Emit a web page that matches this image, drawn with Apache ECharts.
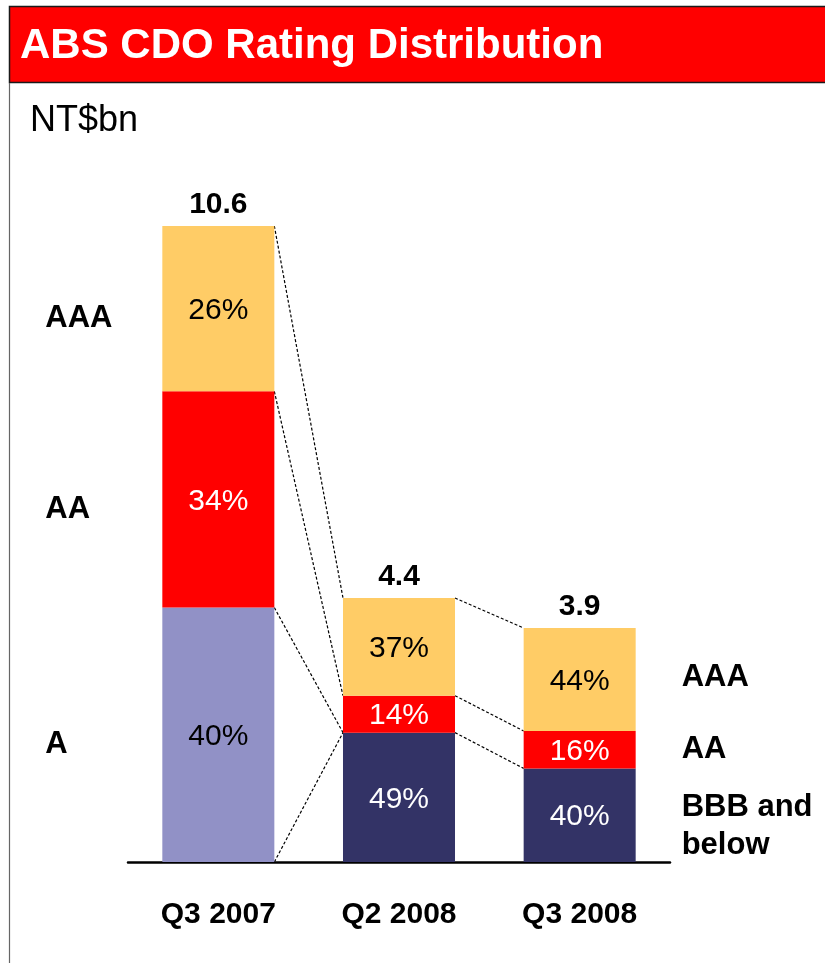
<!DOCTYPE html>
<html>
<head>
<meta charset="utf-8">
<script src="https://cdn.jsdelivr.net/npm/echarts@6/dist/echarts.min.js"></script>
<style>
  html, body { margin: 0; padding: 0; background: #fff; }
  #chart { width: 825px; height: 963px; }
</style>
</head>
<body>
<div id="chart"></div>
<script>
// values
const categories = ['Q3 2007', 'Q2 2008', 'Q3 2008']
const totals = [10.6, 4.4, 3.9]
const lowerPct = [40, 49, 40] // A (2007) / BBB and below (2008)
const aaPct = [34, 14, 16]
const aaaPct = [26, 37, 44]
const leftLabels = ['A', 'AA', 'AAA']
const rightLabels = ['BBB and\nbelow', 'AA', 'AAA']
// connector lines: [fromBar, fromLevel, toBar, toLevel], level 0 = base ... 3 = top
const links = [
  [0, 3, 1, 3], [0, 2, 1, 2], [0, 1, 1, 1], [0, 0, 1, 1],
  [1, 3, 2, 3], [1, 2, 2, 2], [1, 1, 2, 1]
]

const FONT = '"Liberation Sans", Arial, sans-serif'
const BAR_SHARE = 0.62
// small vertical nudges (px) for the side labels, same order as sideTexts
const sideNudge = [10, 10, 10, 11, 0, -2]

const seg = (pct) => pct.map((p, i) => +(totals[i] * p / 100).toFixed(4))
const lowerVals = seg(lowerPct)
const aaVals = seg(aaPct)
const aaaVals = seg(aaaPct)
const levels = totals.map((t, i) => [0, lowerVals[i], lowerVals[i] + aaVals[i], lowerVals[i] + aaVals[i] + aaaVals[i]])
const mids = (i) => [1, 2, 3].map((k) => (levels[i][k - 1] + levels[i][k]) / 2)

const linkData = links.map(([a, la, b, lb]) => [a, levels[a][la], b, levels[b][lb]])
const sideData = mids(0).map((y) => [0, y]).concat(mids(2).map((y) => [2, y]))
const sideTexts = leftLabels.concat(rightLabels)

const pctLabel = (pct, color) => ({
  show: true,
  position: 'inside',
  offset: [0, 2],
  fontFamily: FONT,
  fontSize: 30,
  color: color,
  formatter: (p) => pct[p.dataIndex] + '%'
})

const myChart = echarts.init(document.getElementById('chart'))
myChart.setOption({
  animation: false,
  backgroundColor: '#fff',
  title: [
    {
      text: 'ABS CDO Rating Distribution',
      left: 20,
      top: 25,
      padding: 0,
      textStyle: { color: '#fff', fontSize: 42, fontWeight: 'bold', fontFamily: FONT, lineHeight: 42 }
    },
    {
      text: 'NT$bn',
      left: 30,
      top: 103,
      padding: 0,
      textStyle: { color: '#000', fontSize: 36, fontWeight: 'normal', fontFamily: FONT, lineHeight: 36 }
    }
  ],
  graphic: [
    { type: 'rect', z: -1, shape: { x: 9.5, y: 6.5, width: 830, height: 76 }, style: { fill: '#FF0000', stroke: '#1a1a1a', lineWidth: 1.5 } },
    { type: 'line', z: -1, shape: { x1: 9.5, y1: 83, x2: 9.5, y2: 963 }, style: { stroke: '#666', lineWidth: 1.2 } }
  ],
  grid: { left: 128, right: 155, top: 142, bottom: 101 },
  xAxis: {
    type: 'category',
    data: categories,
    axisLine: { lineStyle: { color: '#000', width: 2.5 } },
    axisTick: { show: false },
    axisLabel: { color: '#000', fontFamily: FONT, fontSize: 30, fontWeight: 'bold', margin: 38 }
  },
  yAxis: { type: 'value', min: 0, max: 12, show: false, splitLine: { show: false } },
  series: [
    {
      name: 'lower',
      type: 'bar',
      stack: 'r',
      barWidth: BAR_SHARE * 100 + '%',
      data: lowerVals.map((v, i) => ({
        value: v,
        itemStyle: { color: i === 0 ? '#9191C6' : '#333366' },
        label: { color: i === 0 ? '#000' : '#fff' }
      })),
      label: pctLabel(lowerPct, '#fff')
    },
    {
      name: 'AA',
      type: 'bar',
      stack: 'r',
      data: aaVals,
      itemStyle: { color: '#FF0000' },
      label: pctLabel(aaPct, '#fff')
    },
    {
      name: 'AAA',
      type: 'bar',
      stack: 'r',
      data: aaaVals,
      itemStyle: { color: '#FFCC66' },
      label: pctLabel(aaaPct, '#000')
    },
    {
      name: 'total',
      type: 'bar',
      stack: 'r',
      data: totals.map(() => 0),
      label: {
        show: true,
        position: 'top',
        distance: 6,
        fontFamily: FONT,
        fontSize: 30,
        fontWeight: 'bold',
        color: '#000',
        formatter: (p) => totals[p.dataIndex].toFixed(1)
      }
    },
    {
      name: 'links',
      type: 'custom',
      silent: true,
      encode: { x: [0, 2], y: [1, 3] },
      data: linkData,
      renderItem: (params, api) => {
        const a = api.coord([api.value(0), api.value(1)])
        const b = api.coord([api.value(2), api.value(3)])
        const half = api.size([1, 0])[0] * BAR_SHARE / 2
        return {
          type: 'line',
          shape: { x1: a[0] + half, y1: a[1], x2: b[0] - half, y2: b[1] },
          style: { stroke: '#000', lineWidth: 1.2, lineDash: [3, 2] }
        }
      }
    },
    {
      name: 'side',
      type: 'custom',
      silent: true,
      encode: { x: 0, y: 1 },
      data: sideData,
      renderItem: (params, api) => {
        const p = api.coord([api.value(0), api.value(1)])
        const half = api.size([1, 0])[0] * BAR_SHARE / 2
        const isLeft = api.value(0) === 0
        return {
          type: 'text',
          x: isLeft ? p[0] - half - 117 : p[0] + half + 46,
          y: p[1] + sideNudge[params.dataIndex],
          style: {
            text: sideTexts[params.dataIndex],
            fill: '#000',
            fontFamily: FONT,
            fontSize: 31,
            fontWeight: 'bold',
            lineHeight: 38,
            align: 'left',
            verticalAlign: 'middle'
          }
        }
      }
    }
  ]
})
</script>
</body>
</html>
